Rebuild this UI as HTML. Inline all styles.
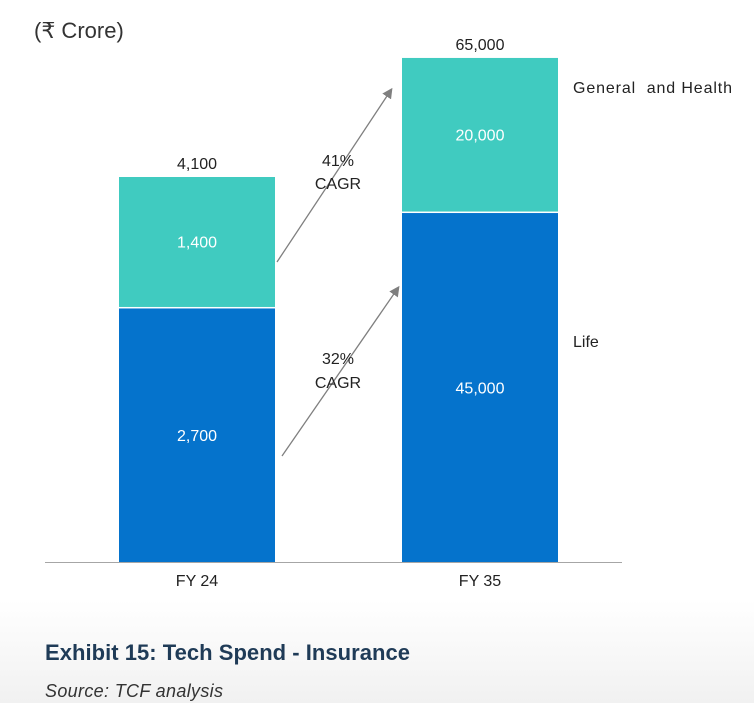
<!DOCTYPE html>
<html><head><meta charset="utf-8"><style>
body{margin:0;width:754px;height:703px;background:#fff;overflow:hidden;font-family:"Liberation Sans",sans-serif;}
#wrap{position:relative;width:754px;height:703px;background:linear-gradient(#fff 0,#fff 600px,#f1f1f1 703px);}
</style></head><body><div id="wrap">
<svg id="chart" width="754" height="703" style="position:absolute;left:0;top:0">
<defs><marker id="ah" markerWidth="8" markerHeight="8" refX="6" refY="4" orient="auto"><path d="M0,0 L8,4 L0,8 z" fill="#7f7f7f"/></marker></defs>
<text x="34" y="38" font-size="22" fill="#333">(₹ Crore)</text>
<line x1="45" y1="562.5" x2="622" y2="562.5" stroke="#a6a6a6" stroke-width="1"/>
<g id="bars"></g>
<line x1="277" y1="262" x2="391" y2="90" stroke="#7f7f7f" stroke-width="1.3" marker-end="url(#ah)"/>
<line x1="282" y1="456" x2="398" y2="288" stroke="#7f7f7f" stroke-width="1.3" marker-end="url(#ah)"/>
<text x="338" y="166" font-size="16" fill="#222" text-anchor="middle">41%</text>
<text x="338" y="189" font-size="16" fill="#222" text-anchor="middle">CAGR</text>
<text x="338" y="364" font-size="16" fill="#222" text-anchor="middle">32%</text>
<text x="338" y="388" font-size="16" fill="#222" text-anchor="middle">CAGR</text>
<text x="573" y="93" font-size="16" fill="#222" textLength="159" style="white-space:pre">General  and Health</text>
<text x="573" y="347" font-size="16" fill="#222">Life</text>
<text x="45" y="660" font-size="22" font-weight="bold" fill="#1f3b57" textLength="365">Exhibit 15: Tech Spend - Insurance</text>
<text x="45" y="697" font-size="18" font-style="italic" fill="#333" textLength="178">Source: TCF analysis</text>
</svg></div>
<script>
const categories=["FY 24","FY 35"];
const lifeValues=[2700,45000];
const generalValues=[1400,20000];
const totalLabels=["4,100","65,000"];
const lifeLabels=["2,700","45,000"];
const generalLabels=["1,400","20,000"];
const baseY=562, barW=156;
function xPos(i){return 119+i*283;}
function totalH(t){return 385*Math.pow(t/4100,0.0975);}
const NS="http://www.w3.org/2000/svg";
const g=document.getElementById('bars');
function mk(tag,attrs){const e=document.createElementNS(NS,tag);for(const k in attrs)e.setAttribute(k,attrs[k]);g.appendChild(e);return e;}
categories.forEach((c,i)=>{
 const t=lifeValues[i]+generalValues[i];
 const H=totalH(t);
 const hl=H*lifeValues[i]/t, hg=H-hl;
 const x=xPos(i);
 const r1=mk('rect',{x:x,y:baseY-hl,width:barW,height:hl,fill:'#0573cc'});
 
 
 const r2=mk('rect',{x:x,y:baseY-H,width:barW,height:hg-1.5,fill:'#40cbc0'});
 
 
 const t1=mk('text',{x:x+barW/2,y:baseY-hl/2+6,'font-size':16,fill:'#fff','text-anchor':'middle'});t1.textContent=lifeLabels[i];
 
 
 const t2=mk('text',{x:x+barW/2,y:baseY-H+hg/2+5,'font-size':16,fill:'#fff','text-anchor':'middle'});t2.textContent=generalLabels[i];
 
 
 const t3=mk('text',{x:x+barW/2,y:baseY-H-8,'font-size':16,fill:'#222','text-anchor':'middle'});t3.textContent=totalLabels[i];
 
 
 const t4=mk('text',{x:x+barW/2,y:586,'font-size':16,fill:'#222','text-anchor':'middle'});t4.textContent=c;
 
 
});
</script></body></html>
